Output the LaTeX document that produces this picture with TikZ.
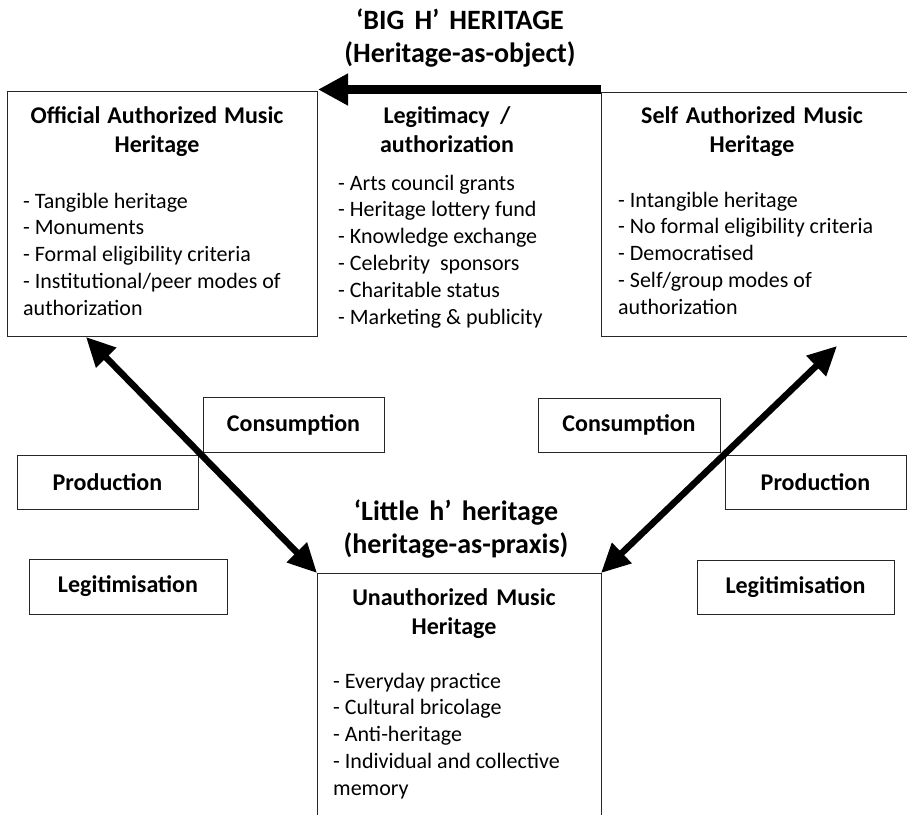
\documentclass[tikz,border=0pt]{standalone}
\usepackage{fontspec}
\setmainfont{Carlito}
\usetikzlibrary{arrows.meta}
\newcommand{\natsp}{\spaceskip=0pt\xspaceskip=0pt\relax}
\begin{document}
\begin{tikzpicture}[x=1pt,y=-1pt,
  boxline/.style={draw=black!85, line width=1pt},
  bigbox/.style={draw=black!85, line width=1pt, inner sep=0pt, outer sep=0pt, anchor=north west},
  body/.style={font=\fontsize{22}{26.8}\selectfont, align=left, text width=300pt, inner sep=0pt, anchor=base west},
  btitle/.style={font=\bfseries\fontsize{24}{29.3}\selectfont, align=center, text width=300pt, inner sep=0pt, anchor=base},
  bigtitle/.style={font=\bfseries\fontsize{28}{33}\selectfont, align=center, text width=340pt, inner sep=0pt, anchor=base},
  smallbox/.style={draw=black!85, line width=1pt, fill=white, font=\bfseries\fontsize{24}{28}\selectfont, inner sep=0pt, outer sep=0pt},
  bigarrow/.style={line width=9.5pt, -{Triangle[length=30pt,width=30pt]}},
  dblarrow/.style={line width=6.5pt, {Triangle[length=29pt,width=27pt]}-{Triangle[length=29pt,width=27pt]}},
]
\useasboundingbox (0,0) rectangle (907,815);

% big boxes
\node[bigbox, minimum width=310pt, minimum height=245pt] (official) at (7,91) {};
\coordinate (selfTL) at (601,92);
\coordinate (selfBL) at (601,336);
\draw[boxline] (907,92) -- (selfTL) -- (selfBL) -- (907,336);
\coordinate (unTL) at (317,573);
\coordinate (unTR) at (601,573);
\draw[boxline] (317,815) -- (unTL) -- (unTR) -- (601,815);

% small boxes
\node[smallbox, minimum width=181pt, minimum height=55pt] (consL) at (293.5,424.5) {Consumption};
\node[smallbox, minimum width=181pt, minimum height=54pt] (prodL) at (107.5,482) {Production};
\node[smallbox, minimum width=198pt, minimum height=55pt] (legL) at (128,586.5) {Legitimisation};
\node[smallbox, minimum width=182pt, minimum height=54pt] (consR) at (629,425) {Consumption};
\node[smallbox, minimum width=181pt, minimum height=54pt] (prodR) at (815.5,482) {Production};
\node[smallbox, minimum width=197pt, minimum height=54pt] (legR) at (795.5,587) {Legitimisation};

% titles
\node[bigtitle] (bigH) at (460,29) {\natsp ‘BIG H’ HERITAGE\\(Heritage-as-object)};
\node[bigtitle] (littleh) at (456,520) {\natsp ‘Little h’ heritage\\(heritage-as-praxis)};

% box texts
\node[btitle] (offT) at (157,123) {\natsp Official Authorized Music\\Heritage};
\node[body] (offL) at (23,208) {\natsp - Tangible heritage\\- Monuments\\- Formal eligibility criteria\\- Institutional/peer modes of\\authorization};
\node[btitle] (legT) at (447,123) {\natsp Legitimacy /\\authorization};
\node[body] (legList) at (338,190) {\natsp - Arts council grants\\- Heritage lottery fund\\- Knowledge exchange\\- Celebrity\ \ sponsors\\- Charitable status\\- Marketing \& publicity};
\node[btitle] (selfT) at (752,123) {\natsp Self Authorized Music\\Heritage};
\node[body] (selfL) at (618,207) {\natsp - Intangible heritage\\- No formal eligibility criteria\\- Democratised\\- Self/group modes of\\authorization};
\node[btitle] (unT) at (454,605) {\natsp Unauthorized Music\\Heritage};
\node[body] (unL) at (333,688) {\natsp - Everyday practice\\- Cultural bricolage\\- Anti-heritage\\- Individual and collective\\memory};

% arrows
\coordinate (bigStart) at (601,89.5);
\coordinate (bigEnd) at (318,89.5);
\draw[bigarrow] (bigStart) -- (bigEnd);
\coordinate (offTip) at (86,337);
\coordinate (selfTip) at (837,346);
\draw[dblarrow] (offTip) -- (unTL);
\draw[dblarrow] (selfTip) -- (unTR);
\end{tikzpicture}
\end{document}
